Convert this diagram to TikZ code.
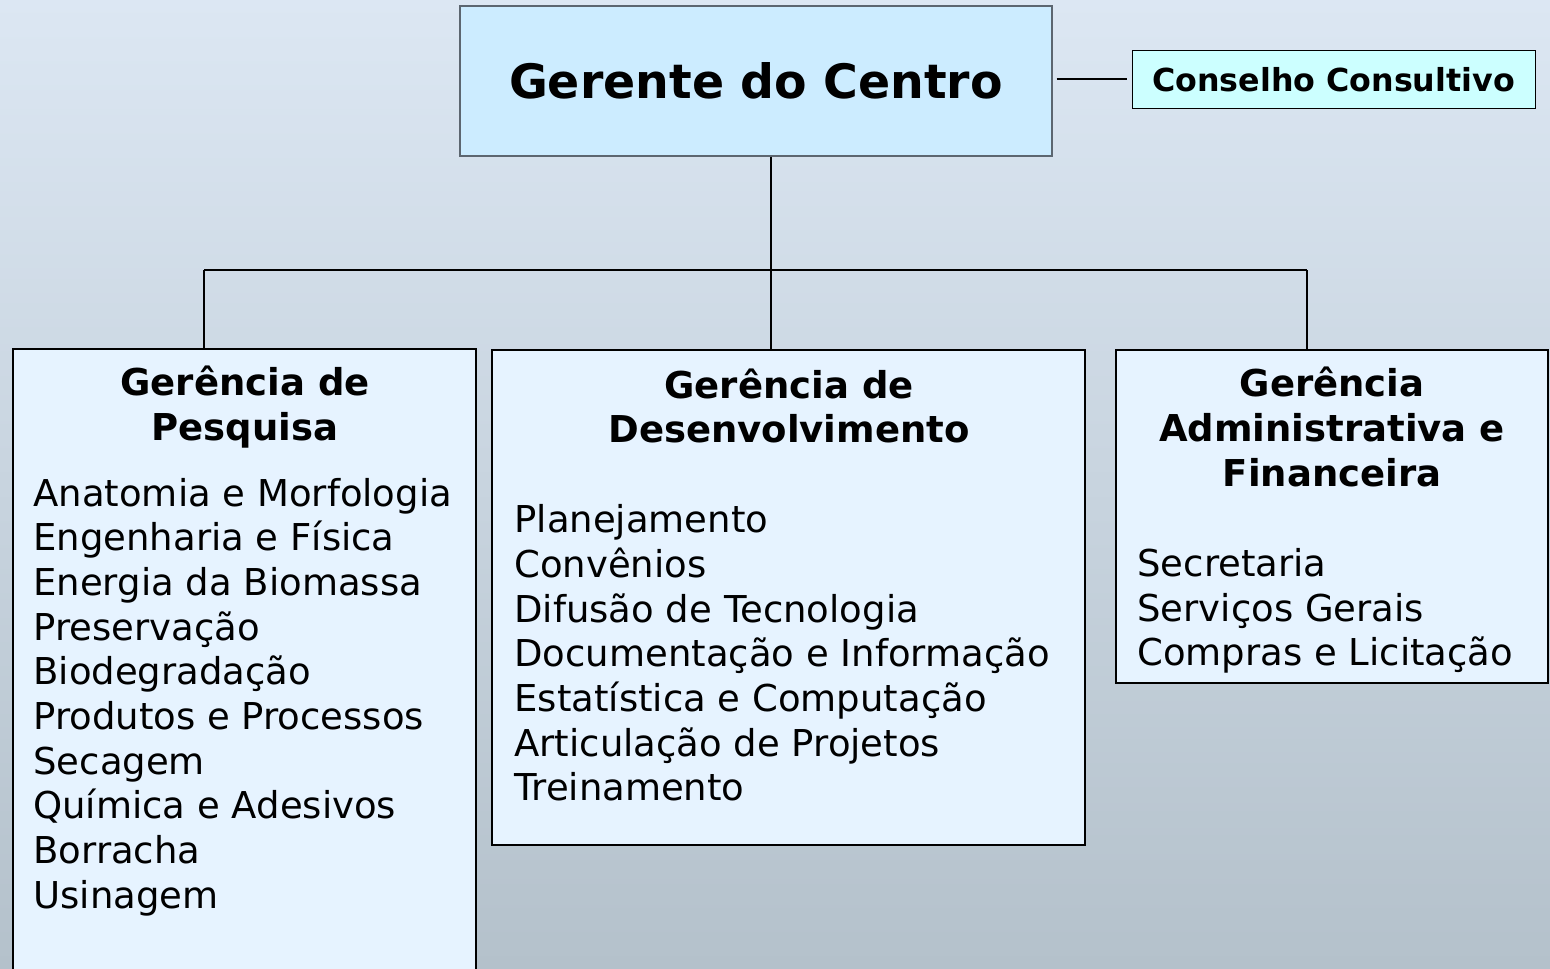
\documentclass[tikz,border=0pt]{standalone}
\usepackage{fontspec}
\setmainfont{DejaVu Sans}
\usetikzlibrary{positioning,calc}
\definecolor{bgtop}{HTML}{DCE7F3}
\definecolor{bgbot}{HTML}{B4C1CB}
\definecolor{topfill}{HTML}{CCECFF}
\definecolor{topline}{HTML}{5C6670}
\definecolor{cnsfill}{HTML}{CCFFFF}
\definecolor{boxfill}{HTML}{E6F3FF}

\begin{document}
\begin{tikzpicture}[x=0.5pt,y=-0.5pt]
\tikzstyle{box}=[draw,line width=0.65pt,fill=boxfill,inner sep=0pt]
\tikzstyle{head}=[font=\fontsize{18.5}{22.35}\selectfont\bfseries,align=center,inner sep=0pt]
\tikzstyle{list}=[font=\fontsize{18.5}{22.35}\selectfont,align=left,inner sep=0pt,anchor=west]
\tikzstyle{conn}=[line width=1pt]
\useasboundingbox (0,0) rectangle (1550,968);
\clip (0,0) rectangle (1550,968);
\shade[top color=bgtop,bottom color=bgbot] (0,0) rectangle (1550,968);
\node[draw=topline,line width=0.6pt,fill=topfill,minimum width=296pt,minimum height=75pt,
      inner sep=0pt,font=\fontsize{23.7}{28}\selectfont\bfseries] (gerente) at (756,81) {Gerente do Centro};
\node[draw,line width=0.5pt,fill=cnsfill,minimum width=201.5pt,minimum height=29pt,
      inner sep=0pt,font=\fontsize{15.85}{19}\selectfont\bfseries] (conselho) at (1333.5,79.5) {Conselho Consultivo};
\node[box,minimum width=231.5pt,minimum height=320.5pt] (pesq) at (244.5,669.5) {};
\node[box,line width=1pt,minimum width=296.5pt,minimum height=247.5pt] (desenv) at (788.5,597.5) {};
\node[box,minimum width=216pt,minimum height=166.5pt] (admin) at (1332,516.5) {};
\node[head] (pesqH) at (245,407) {Gerência de\\Pesquisa};
\node[list] (pesqL) at (33,697) {Anatomia e Morfologia\\Engenharia e Física\\Energia da Biomassa\\Preservação\\
  Biodegradação\\Produtos e Processos\\Secagem\\Química e Adesivos\\Borracha\\Usinagem};
\node[head] (desenvH) at (789,406) {Gerência de\\Desenvolvimento};
\node[list] (desenvL) at (514,653) {Planejamento\\Convênios\\Difusão de Tecnologia\\Documentação e Informação\\
  Estatística e Computação\\Articulação de Projetos\\Treinamento};
\node[head] (adminH) at (1332,427) {Gerência\\Administrativa e\\Financeira};
\node[list] (adminL) at (1137,611) {Secretaria\\Serviços Gerais\\Compras e Licitação};
\coordinate (barL) at (204,270);
\coordinate (barM) at (771,270);
\coordinate (barR) at (1307,270);
\draw[conn] (barL) -- (barR);
\draw[conn] (barM |- gerente.south) -- (barM |- desenv.north);
\draw[conn] (barL) -- (barL |- pesq.north);
\draw[conn] (barR) -- (barR |- admin.north);
\draw[conn,shorten <=2pt,shorten >=2.5pt] (gerente.east |- conselho.west) -- (conselho.west);
\end{tikzpicture}
\end{document}
